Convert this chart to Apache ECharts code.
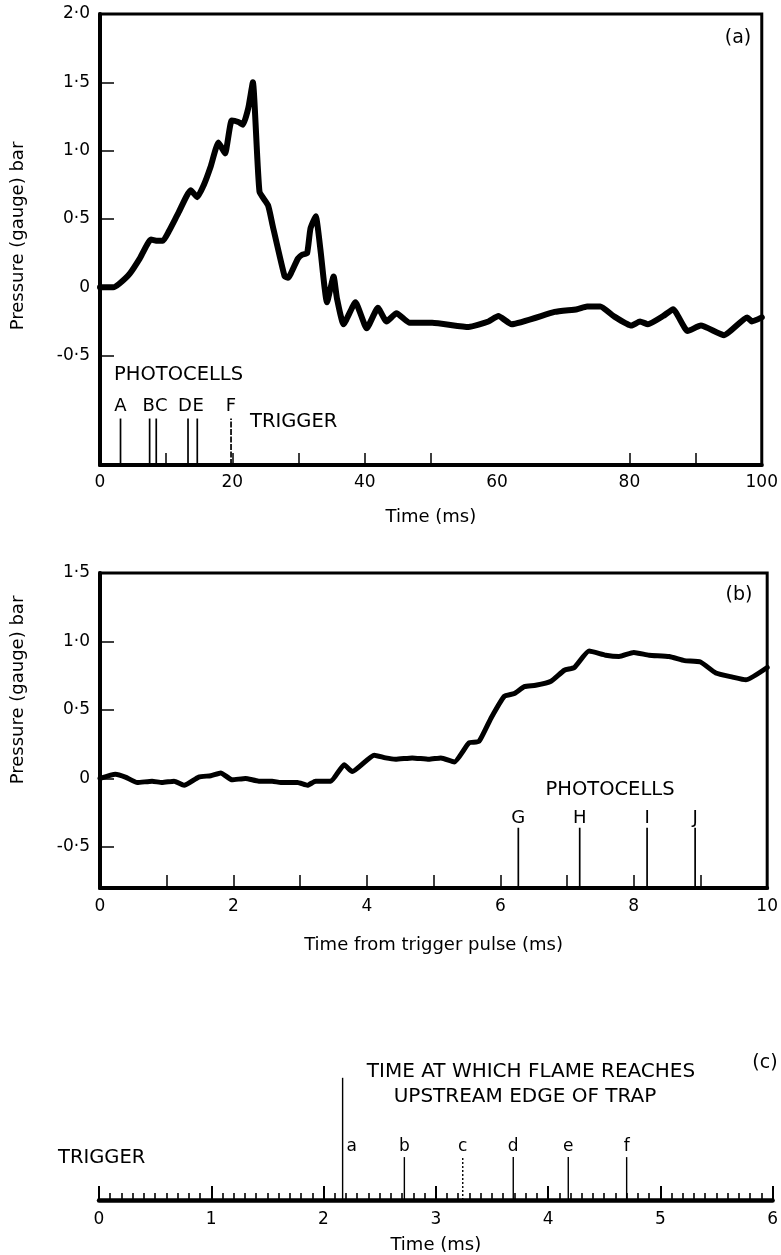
<!DOCTYPE html>
<html>
<head>
<meta charset="utf-8">
<script src="https://cdn.jsdelivr.net/npm/echarts@6/dist/echarts.min.js"></script>
<style>
html,body{margin:0;padding:0;background:#fff;}
#c{width:781px;height:1255px;}
</style>
</head>
<body>
<div id="c"></div>
<script>
// ---------- Panel (a): pressure vs time ----------
const tA = [0,2,3,4.5,6,7.7,8.7,9.5,10.4,11.9,13.7,14.7,15.7,16.7,17.9,18.9,19.9,20.9,21.6,22.4,23.1,24.1,25.4,26.1,27.9,28.4,29.9,30.6,31.3,31.8,32.6,33.3,34.3,35.3,35.8,36.8,38.6,40.3,42.0,43.3,44.8,46.8,50.2,55.7,58.7,60.2,62.2,68.7,72.1,73.6,75.6,77.6,80.3,81.6,82.8,85.1,86.6,88.8,90.8,94.3,97.8,98.5,100];
const pA = [0,0,0.03,0.10,0.21,0.35,0.34,0.34,0.41,0.55,0.71,0.66,0.75,0.88,1.06,0.98,1.22,1.21,1.19,1.31,1.50,0.70,0.60,0.45,0.08,0.07,0.21,0.24,0.25,0.43,0.52,0.28,-0.11,0.08,-0.08,-0.27,-0.11,-0.30,-0.15,-0.25,-0.19,-0.26,-0.26,-0.29,-0.25,-0.21,-0.27,-0.18,-0.16,-0.14,-0.14,-0.21,-0.28,-0.25,-0.27,-0.21,-0.16,-0.32,-0.28,-0.35,-0.22,-0.25,-0.22];
const photoTA = [3.1,7.5,8.5,13.3,14.7,19.8];
const photoLabelA = ['A','B','C','D','E','F'];
const photoTopA = -0.96;
const yTickValA = [-0.5,0,0.5,1.0,1.5,2.0];
const yTickTextA = ['-0·5','0','0·5','1·0','1·5','2·0'];
const xTickA = [10,20,30,40,50,80,90];

// ---------- Panel (b): pressure vs time from trigger ----------
const tB = [0,0.23,0.38,0.56,0.78,0.93,1.11,1.26,1.48,1.66,1.81,1.98,2.18,2.38,2.58,2.71,2.96,3.11,3.23,3.46,3.66,3.78,4.11,4.28,4.43,4.68,4.93,5.11,5.31,5.53,5.68,5.86,6.06,6.21,6.36,6.53,6.76,6.96,7.11,7.33,7.58,7.78,8.0,8.23,8.53,8.76,9.0,9.23,9.48,9.68,10.0];
const pB = [0,0.03,0.01,-0.03,-0.02,-0.03,-0.02,-0.05,0.01,0.02,0.04,-0.01,0,-0.02,-0.02,-0.03,-0.03,-0.05,-0.02,-0.02,0.10,0.05,0.17,0.15,0.14,0.15,0.14,0.15,0.12,0.26,0.27,0.44,0.60,0.62,0.67,0.68,0.71,0.79,0.81,0.93,0.90,0.89,0.92,0.90,0.89,0.86,0.85,0.77,0.74,0.72,0.81];
const photoTB = [6.27,7.19,8.2,8.92];
const photoLabelB = ['G','H','I','J'];
const photoTopB = -0.36;
const yTickValB = [-0.5,0,0.5,1.0,1.5];
const yTickTextB = ['-0·5','0','0·5','1·0','1·5'];
const xTickB = [1,2,3,4,5,6,7,8,9];

// ---------- Panel (c): flame arrival markers ----------
const flameT = [2.17,2.72,3.24,3.69,4.18,4.70];
const flameH = [0.94,0.33,0.33,0.33,0.33,0.33];
const flameLabel = ['a','b','c','d','e','f'];

// ---------- styling (not data) ----------
const FONT = 'DejaVu Sans';
const BLACK = '#000';
const labelDxA = [0,-1,5,-3,1,0];
const dashA = [null,null,null,null,null,[6,1.5]];
const dashC = [null,null,[2,2],null,null,null];
const labelDxC = [9,0,0,0,0,0];

function lookup(vals, texts) {
  return function (v) {
    for (let i = 0; i < vals.length; i++) if (Math.abs(vals[i] - v) < 1e-6) return texts[i];
    return '';
  };
}

function spikes(axisIdx, xs, tops, base, labels, o) {
  return {
    type: 'custom',
    xAxisIndex: axisIdx, yAxisIndex: axisIdx,
    silent: true,
    clip: false,
    data: xs.map((x, i) => [x, tops[i], i]),
    renderItem: function (params, api) {
      const i = api.value(2);
      const x = api.value(0);
      const p0 = api.coord([x, base]);
      const p1 = api.coord([x, api.value(1)]);
      const lp = o.labelLevel != null ? api.coord([x, o.labelLevel]) : p1;
      const dash = o.dash ? o.dash[i] : null;
      return {
        type: 'group',
        children: [
          { type: 'line', shape: { x1: p0[0], y1: p0[1], x2: p1[0], y2: p1[1] },
            style: { stroke: BLACK, lineWidth: o.width || 1.7, lineDash: dash } },
          { type: 'text',
            style: { text: labels[i], x: lp[0] + (o.dx ? o.dx[i] : 0), y: lp[1] + o.dy,
                     textAlign: 'center', textVerticalAlign: 'middle',
                     fill: BLACK, font: o.font } }
        ]
      };
    }
  };
}

const axisLabelStyle = { color: BLACK, fontSize: 17, fontFamily: FONT };
const nameStyle = { color: BLACK, fontSize: 18, fontFamily: FONT };

const option = {
  animation: false,
  backgroundColor: '#fff',
  textStyle: { fontFamily: FONT, color: BLACK },
  grid: [
    { left: 100, top: 14, width: 670, height: 451, show: true, borderColor: BLACK, borderWidth: 3 },
    { left: 100, top: 573, width: 668, height: 315, show: true, borderColor: BLACK, borderWidth: 3 },
    { left: 99, top: 1070, width: 674, height: 130, show: false }
  ],
  xAxis: [
    { gridIndex: 0, type: 'value', min: 0, max: 100, interval: 20,
      axisLine: { onZero: false, lineStyle: { color: BLACK, width: 4 } },
      axisTick: { inside: true, length: 12, customValues: xTickA, lineStyle: { color: BLACK, width: 1.5 } },
      axisLabel: Object.assign({ margin: 9 }, axisLabelStyle),
      splitLine: { show: false },
      name: 'Time (ms)', nameLocation: 'middle', nameGap: 43, nameTextStyle: nameStyle },
    { gridIndex: 1, type: 'value', min: 0, max: 10, interval: 2,
      axisLine: { onZero: false, lineStyle: { color: BLACK, width: 4 } },
      axisTick: { inside: true, length: 13, customValues: xTickB, lineStyle: { color: BLACK, width: 1.5 } },
      axisLabel: Object.assign({ margin: 10 }, axisLabelStyle),
      splitLine: { show: false },
      name: 'Time from trigger pulse (ms)', nameLocation: 'middle', nameGap: 48, nameTextStyle: nameStyle },
    { gridIndex: 2, type: 'value', min: 0, max: 6, interval: 1,
      axisLine: { onZero: false, lineStyle: { color: BLACK, width: 4.5 } },
      axisTick: { inside: true, length: 14, lineStyle: { color: BLACK, width: 2 } },
      minorTick: { show: true, splitNumber: 10, length: 7, lineStyle: { color: BLACK, width: 1.6 } },
      axisLabel: Object.assign({ margin: 11 }, axisLabelStyle),
      splitLine: { show: false },
      name: 'Time (ms)', nameLocation: 'middle', nameGap: 36, nameTextStyle: nameStyle }
  ],
  yAxis: [
    { gridIndex: 0, type: 'value', min: -1.3, max: 2.0,
      axisLine: { onZero: false, lineStyle: { color: BLACK, width: 4 } },
      axisTick: { inside: true, length: 14, customValues: yTickValA, lineStyle: { color: BLACK, width: 1.5 } },
      axisLabel: Object.assign({ margin: 10, customValues: yTickValA, formatter: lookup(yTickValA, yTickTextA) }, axisLabelStyle),
      splitLine: { show: false } },
    { gridIndex: 1, type: 'value', min: -0.8, max: 1.5,
      axisLine: { onZero: false, lineStyle: { color: BLACK, width: 4 } },
      axisTick: { inside: true, length: 14, customValues: yTickValB, lineStyle: { color: BLACK, width: 1.5 } },
      axisLabel: Object.assign({ margin: 10, customValues: yTickValB, formatter: lookup(yTickValB, yTickTextB) }, axisLabelStyle),
      splitLine: { show: false } },
    { gridIndex: 2, type: 'value', min: 0, max: 1, show: false, splitLine: { show: false } }
  ],
  series: [
    { type: 'line', xAxisIndex: 0, yAxisIndex: 0, data: tA.map((t, i) => [t, pA[i]]),
      showSymbol: false, smooth: 0.15, silent: true,
      lineStyle: { color: BLACK, width: 6, join: 'round', cap: 'round' } },
    { type: 'line', xAxisIndex: 1, yAxisIndex: 1, data: tB.map((t, i) => [t, pB[i]]),
      showSymbol: false, smooth: 0.15, silent: true,
      lineStyle: { color: BLACK, width: 5, join: 'round', cap: 'round' } },
    spikes(0, photoTA, photoTA.map(() => photoTopA), -1.3, photoLabelA,
      { dy: -12, dx: labelDxA, dash: dashA, font: '18px "DejaVu Sans"' }),
    spikes(1, photoTB, photoTB.map(() => photoTopB), -0.8, photoLabelB,
      { dy: -9, font: '18px "DejaVu Sans"' }),
    spikes(2, flameT, flameH, 0, flameLabel,
      { dy: 0, dx: labelDxC, dash: dashC, labelLevel: 0.41, width: 1.4, font: '17px "DejaVu Sans"' })
  ],
  graphic: [
    { type: 'text', x: 18, y: 236, rotation: Math.PI / 2,
      style: { text: 'Pressure (gauge) bar', font: '18px "DejaVu Sans"', fill: BLACK, textAlign: 'center', textVerticalAlign: 'middle' } },
    { type: 'text', x: 18, y: 690, rotation: Math.PI / 2,
      style: { text: 'Pressure (gauge) bar', font: '18px "DejaVu Sans"', fill: BLACK, textAlign: 'center', textVerticalAlign: 'middle' } },
    { type: 'text', x: 738, y: 38, style: { text: '(a)', font: '19px "DejaVu Sans"', fill: BLACK, textAlign: 'center', textVerticalAlign: 'middle' } },
    { type: 'text', x: 739, y: 595, style: { text: '(b)', font: '19px "DejaVu Sans"', fill: BLACK, textAlign: 'center', textVerticalAlign: 'middle' } },
    { type: 'text', x: 765, y: 1063, style: { text: '(c)', font: '19px "DejaVu Sans"', fill: BLACK, textAlign: 'center', textVerticalAlign: 'middle' } },
    { type: 'text', x: 114, y: 375, style: { text: 'PHOTOCELLS', font: '19.5px "DejaVu Sans"', fill: BLACK, textAlign: 'left', textVerticalAlign: 'middle' } },
    { type: 'text', x: 250, y: 422, style: { text: 'TRIGGER', font: '19.5px "DejaVu Sans"', fill: BLACK, textAlign: 'left', textVerticalAlign: 'middle' } },
    { type: 'text', x: 610, y: 790, style: { text: 'PHOTOCELLS', font: '19.5px "DejaVu Sans"', fill: BLACK, textAlign: 'center', textVerticalAlign: 'middle' } },
    { type: 'text', x: 58, y: 1158, style: { text: 'TRIGGER', font: '19.5px "DejaVu Sans"', fill: BLACK, textAlign: 'left', textVerticalAlign: 'middle' } },
    { type: 'text', x: 531, y: 1072, style: { text: 'TIME AT WHICH FLAME REACHES', font: '20px "DejaVu Sans"', fill: BLACK, textAlign: 'center', textVerticalAlign: 'middle' } },
    { type: 'text', x: 525, y: 1097, style: { text: 'UPSTREAM EDGE OF TRAP', font: '20px "DejaVu Sans"', fill: BLACK, textAlign: 'center', textVerticalAlign: 'middle' } }
  ]
};

const chart = echarts.init(document.getElementById('c'), null, { renderer: 'canvas' });
chart.setOption(option);
</script>
</body>
</html>
